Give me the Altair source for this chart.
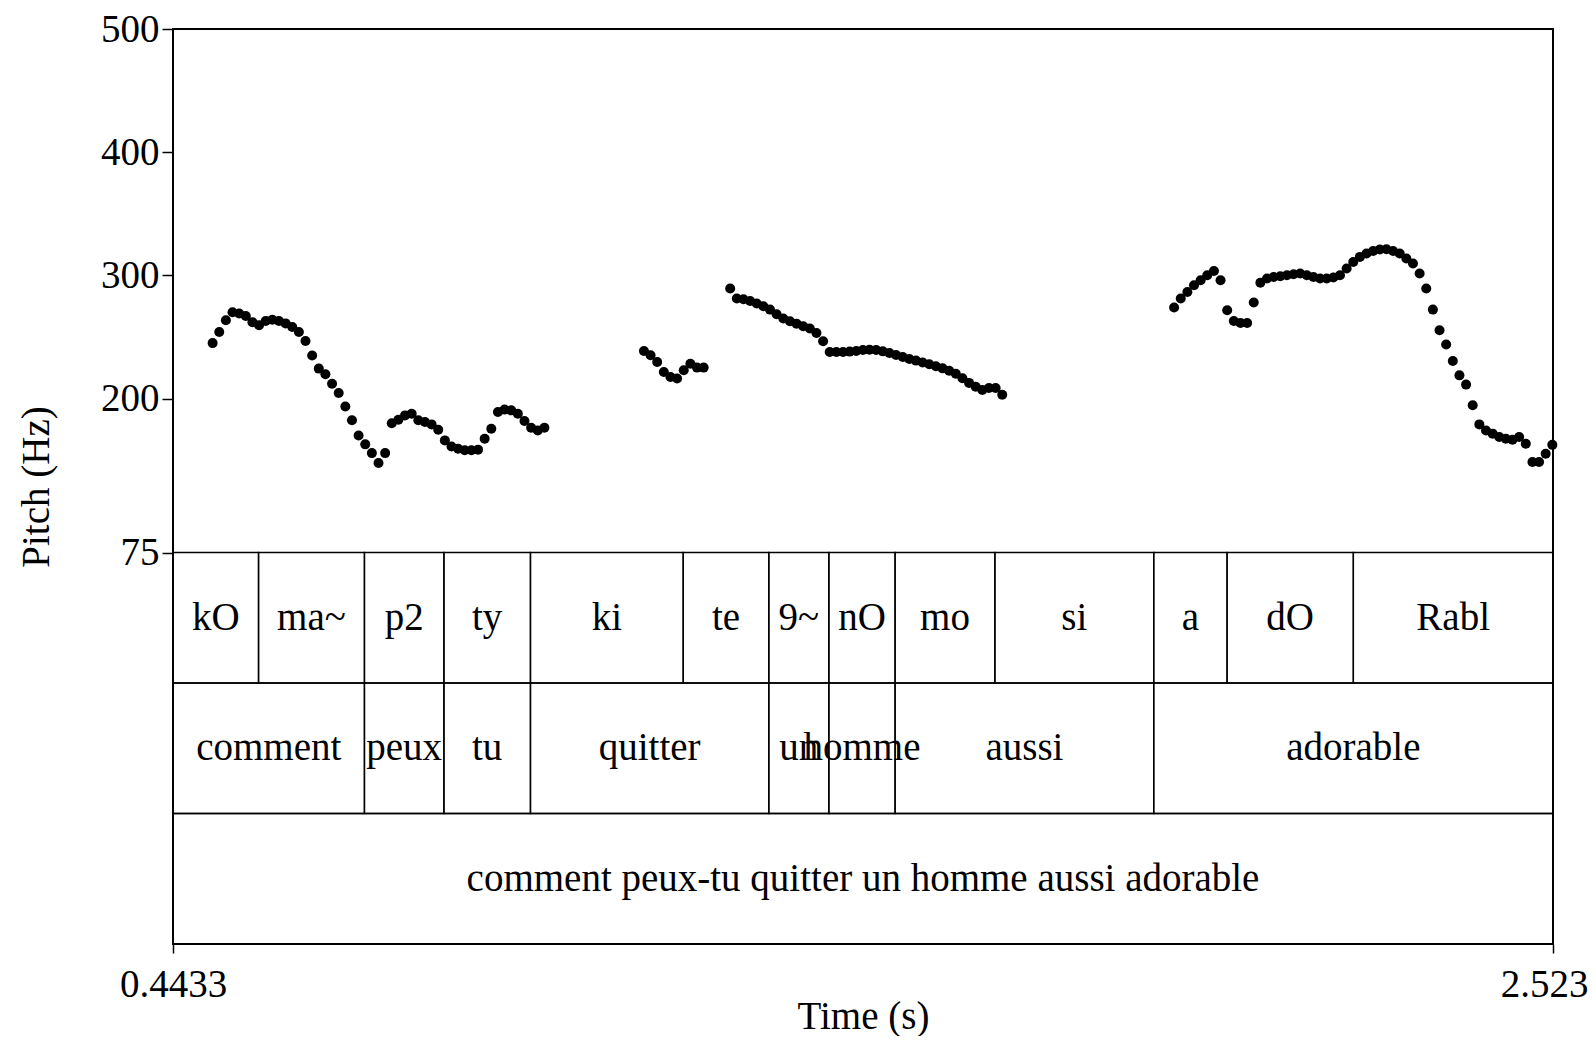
import altair as alt
import pandas as pd

# ---------------- data ----------------
# Pitch contour (time in s, pitch in Hz), four voiced stretches
seg1_t = [0.503, 0.513, 0.523, 0.533, 0.543, 0.553, 0.563, 0.573, 0.583, 0.593,
          0.603, 0.613, 0.623, 0.633, 0.643, 0.653, 0.663, 0.673, 0.683, 0.693,
          0.703, 0.713, 0.723, 0.733, 0.743, 0.753, 0.763, 0.773, 0.783, 0.793,
          0.803, 0.813, 0.823, 0.833, 0.843, 0.853, 0.863, 0.873, 0.883, 0.893,
          0.903, 0.913, 0.923, 0.933, 0.943, 0.953, 0.963, 0.973, 0.983, 0.993,
          1.003]
seg1_hz = [245.0, 254.0, 263.5, 270.0, 269.0, 267.0, 262.0, 259.5, 263.0, 264.0,
           263.0, 261.0, 258.0, 254.0, 246.7, 235.0, 224.3, 219.7, 212.0, 204.5,
           193.6, 182.3, 170.0, 162.8, 155.7, 147.6, 155.7, 180.0, 182.8, 186.3,
           187.7, 182.3, 181.0, 179.0, 174.7, 166.0, 161.0, 159.3, 158.0, 158.0,
           158.5, 167.4, 175.5, 189.0, 191.0, 190.4, 187.7, 181.7, 176.3, 174.0,
           176.3]

seg2_t = [1.153, 1.163, 1.173, 1.183, 1.193, 1.203, 1.213, 1.223, 1.233, 1.243]
seg2_hz = [238.6, 235.1, 229.6, 221.5, 217.5, 216.2, 222.9, 228.3, 225.1, 225.1]

seg3_t = [1.283, 1.293, 1.303, 1.313, 1.323, 1.333, 1.343, 1.353, 1.363, 1.373,
          1.383, 1.393, 1.403, 1.413, 1.423, 1.433, 1.443, 1.453, 1.463, 1.473,
          1.483, 1.493, 1.503, 1.513, 1.523, 1.533, 1.543, 1.553, 1.563, 1.573,
          1.583, 1.593, 1.603, 1.613, 1.623, 1.633, 1.643, 1.653, 1.663, 1.673,
          1.683, 1.693]
seg3_hz = [289.3, 281.2, 280.6, 279.2, 277.1, 274.9, 272.2, 268.4, 264.9, 262.7,
           260.8, 258.7, 256.8, 253.2, 246.5, 237.8, 237.8, 237.8, 238.1, 238.6,
           239.4, 239.7, 239.4, 238.3, 237.0, 235.3, 233.7, 232.1, 230.8, 229.2,
           227.8, 226.2, 224.5, 222.5, 220.1, 216.4, 212.7, 209.5, 207.0, 208.5,
           208.5, 203.0]

seg4_t = [1.952, 1.962, 1.972, 1.982, 1.992, 2.002, 2.012, 2.022, 2.032, 2.042,
          2.052, 2.062, 2.072, 2.082, 2.092, 2.102, 2.112, 2.122, 2.132, 2.142,
          2.152, 2.162, 2.172, 2.182, 2.192, 2.202, 2.212, 2.222, 2.232, 2.242,
          2.252, 2.262, 2.272, 2.282, 2.292, 2.302, 2.312, 2.322, 2.332, 2.342,
          2.352, 2.362, 2.372, 2.382, 2.392, 2.402, 2.412, 2.422, 2.432, 2.442,
          2.452, 2.462, 2.472, 2.482, 2.492, 2.502, 2.512, 2.522]
seg4_hz = [273.9, 281.2, 286.5, 292.0, 296.0, 300.1, 303.6, 296.0, 271.7, 263.0,
           261.3, 261.3, 277.9, 294.0, 297.4, 298.7, 299.3, 300.1, 300.9, 301.5,
           300.1, 298.7, 297.4, 297.4, 298.2, 300.1, 305.5, 310.9, 315.0, 317.7,
           319.8, 321.0, 321.2, 319.8, 317.7, 313.7, 309.6, 301.5, 289.3, 272.2,
           255.4, 243.8, 230.5, 218.8, 211.3, 194.5, 179.0, 174.1, 171.5, 168.7,
           167.4, 166.6, 168.7, 163.3, 148.4, 148.4, 155.1, 162.4]

# TextGrid tiers
syllables = ["kO", "ma~", "p2", "ty", "ki", "te", "9~", "nO", "mo", "si", "a", "dO", "Rabl"]
syllable_bounds = [0.4433, 0.5722, 0.7318, 0.8516, 0.9820, 1.2122, 1.3412, 1.4317,
                   1.5315, 1.6819, 1.9213, 2.0318, 2.2221, 2.523]
words = ["comment", "peux", "tu", "quitter", "un", "homme", "aussi", "adorable"]
word_bounds = [0.4433, 0.7318, 0.8516, 0.9820, 1.3412, 1.4317, 1.5315, 1.9213, 2.523]
sentence = ["comment peux-tu quitter un homme aussi adorable"]
sentence_bounds = [0.4433, 2.523]

t_min, t_max = 0.4433, 2.523
y_ticks = [75, 200, 300, 400, 500]
x_ticks = [0.4433, 2.523]

# ---------------- layout ----------------
W, H = 1380, 915
PITCH_PX = 523.5
FONT = "Liberation Serif"
FS = 39
units_per_px = (500 - 75) / PITCH_PX
tier_units = (H - PITCH_PX) / 3 * units_per_px
y_lo = 75 - 3 * tier_units

pts = pd.DataFrame({
    "t": seg1_t + seg2_t + seg3_t + seg4_t,
    "hz": seg1_hz + seg2_hz + seg3_hz + seg4_hz,
})

rows = []
for i, (labels, bounds) in enumerate([(syllables, syllable_bounds),
                                      (words, word_bounds),
                                      (sentence, sentence_bounds)]):
    top = 75 - i * tier_units
    bot = 75 - (i + 1) * tier_units
    for j, lab in enumerate(labels):
        rows.append({"start": bounds[j], "end": bounds[j + 1],
                     "mid": (bounds[j] + bounds[j + 1]) / 2,
                     "top": top, "bot": bot, "ymid": (top + bot) / 2,
                     "label": lab})
tiers = pd.DataFrame(rows)

xscale = alt.Scale(domain=[t_min, t_max], nice=False, zero=False)
yscale = alt.Scale(domain=[y_lo, 500], nice=False, zero=False)

xaxis = alt.Axis(values=x_ticks, format=".4~f", title="Time (s)", grid=False,
                 domain=False, tickSize=9, tickWidth=1.5, tickColor="black",
                 labelPadding=12, labelFont=FONT, labelFontSize=FS, labelColor="black",
                 labelFlush=False,
                 labelAlign={"condition": {"test": "datum.value > 2", "value": "right"},
                             "value": "center"},
                 labelOffset={"condition": {"test": "datum.value > 2", "value": 35},
                              "value": 0},
                 titleFont=FONT, titleFontSize=FS, titleFontWeight="normal",
                 titleColor="black", titleY=84, titleBaseline="alphabetic")
yaxis = alt.Axis(values=y_ticks, title="Pitch (Hz)", grid=False, domain=False,
                 tickSize=11, tickWidth=1.5, tickColor="black", labelPadding=3,
                 labelFont=FONT, labelFontSize=FS, labelColor="black",
                 titleFont=FONT, titleFontSize=FS, titleFontWeight="normal",
                 titleColor="black", titleX=-137, titleY=H / 2, titleAngle=270,
                 titleAlign="center", titleBaseline="middle")

points = alt.Chart(pts).mark_circle(size=100, color="black", opacity=1).encode(
    x=alt.X("t:Q", scale=xscale, axis=xaxis),
    y=alt.Y("hz:Q", scale=yscale, axis=yaxis),
)

boxes = alt.Chart(tiers).mark_rect(fillOpacity=0, stroke="black", strokeWidth=1.4).encode(
    x=alt.X("start:Q", scale=xscale, axis=xaxis), x2="end:Q",
    y=alt.Y("top:Q", scale=yscale, axis=yaxis), y2="bot:Q",
)

texts = alt.Chart(tiers).mark_text(font=FONT, fontSize=FS, baseline="middle",
                                   align="center", color="black").encode(
    x=alt.X("mid:Q", scale=xscale, axis=xaxis),
    y=alt.Y("ymid:Q", scale=yscale, axis=yaxis),
    text="label:N",
)

chart = alt.layer(points, boxes, texts).properties(
    width=W, height=H,
    autosize=alt.AutoSizeParams(type="none"),
    padding={"left": 165, "top": 21, "right": 35, "bottom": 92},
    background="white",
).configure(font=FONT).configure_axis(
    labelFont=FONT, titleFont=FONT
).configure_view(stroke="black", strokeWidth=2)

chart.save("out.html", embed_options={"renderer": "svg", "actions": False})
